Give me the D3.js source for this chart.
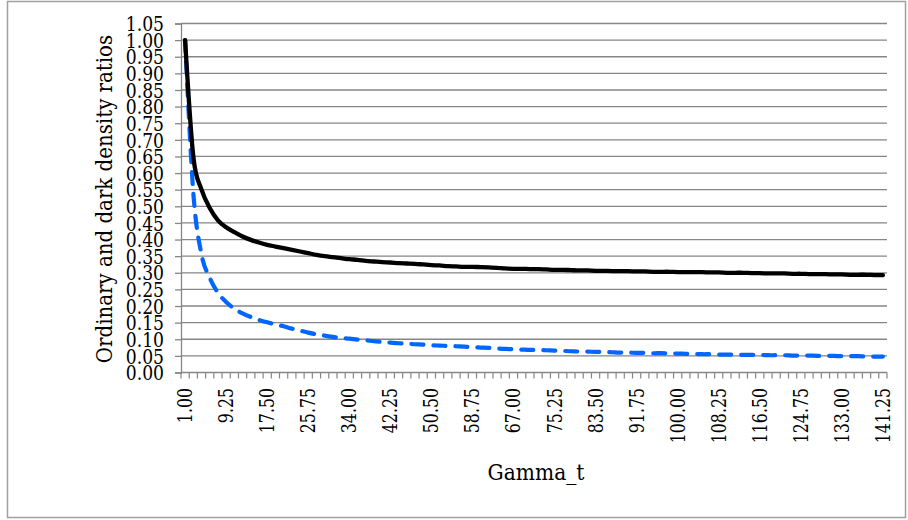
<!DOCTYPE html>
<html>
<head>
<meta charset="utf-8">
<script src="https://cdn.jsdelivr.net/npm/d3@7"></script>
<style>
  body { margin: 0; background: #fff; }
  svg { display: block; }
</style>
</head>
<body>
<svg id="chart" width="908" height="520"></svg>
<script>
// categories (Gamma_t)
var gammaT = [1.00, 2.65, 4.30, 5.95, 7.60, 9.25, 10.90, 12.55, 14.20, 15.85,
  17.50, 19.15, 20.80, 22.45, 24.10, 25.75, 27.40, 29.05, 30.70, 32.35,
  34.00, 35.65, 37.30, 38.95, 40.60, 42.25, 43.90, 45.55, 47.20, 48.85,
  50.50, 52.15, 53.80, 55.45, 57.10, 58.75, 60.40, 62.05, 63.70, 65.35,
  67.00, 68.65, 70.30, 71.95, 73.60, 75.25, 76.90, 78.55, 80.20, 81.85,
  83.50, 85.15, 86.80, 88.45, 90.10, 91.75, 93.40, 95.05, 96.70, 98.35,
  100.00, 101.65, 103.30, 104.95, 106.60, 108.25, 109.90, 111.55, 113.20, 114.85,
  116.50, 118.15, 119.80, 121.45, 123.10, 124.75, 126.40, 128.05, 129.70, 131.35,
  133.00, 134.65, 136.30, 137.95, 139.60, 141.25];

// solid black series
var ordinaryRatio = [1.000, 0.650, 0.550, 0.495, 0.458, 0.437, 0.422, 0.409, 0.399, 0.391,
  0.384, 0.379, 0.374, 0.369, 0.364, 0.359, 0.354, 0.350, 0.347, 0.344,
  0.341, 0.339, 0.336, 0.334, 0.332, 0.331, 0.329, 0.328, 0.327, 0.325,
  0.323, 0.322, 0.320, 0.319, 0.318, 0.318, 0.317, 0.316, 0.315, 0.313,
  0.312, 0.312, 0.311, 0.311, 0.310, 0.309, 0.309, 0.308, 0.307, 0.307,
  0.306, 0.306, 0.305, 0.305, 0.305, 0.304, 0.304, 0.303, 0.303, 0.303,
  0.302, 0.302, 0.302, 0.302, 0.301, 0.301, 0.300, 0.300, 0.300, 0.299,
  0.299, 0.298, 0.298, 0.298, 0.297, 0.297, 0.296, 0.296, 0.296, 0.295,
  0.295, 0.294, 0.294, 0.294, 0.293, 0.293];

// dashed blue series
var darkRatio = [1.000, 0.540, 0.355, 0.285, 0.240, 0.212, 0.192, 0.178, 0.167, 0.158,
  0.151, 0.145, 0.139, 0.132, 0.126, 0.120, 0.115, 0.111, 0.107, 0.104,
  0.102, 0.099, 0.097, 0.094, 0.092, 0.090, 0.088, 0.087, 0.085, 0.084,
  0.082, 0.081, 0.080, 0.079, 0.078, 0.076, 0.075, 0.074, 0.072, 0.071,
  0.070, 0.069, 0.068, 0.068, 0.067, 0.066, 0.065, 0.064, 0.063, 0.063,
  0.062, 0.062, 0.061, 0.060, 0.060, 0.059, 0.059, 0.058, 0.058, 0.057,
  0.057, 0.056, 0.056, 0.055, 0.055, 0.054, 0.054, 0.054, 0.053, 0.053,
  0.053, 0.052, 0.052, 0.052, 0.051, 0.051, 0.051, 0.050, 0.050, 0.050,
  0.049, 0.049, 0.049, 0.048, 0.048, 0.048];

var yTicks = [0.00, 0.05, 0.10, 0.15, 0.20, 0.25, 0.30, 0.35, 0.40, 0.45, 0.50,
  0.55, 0.60, 0.65, 0.70, 0.75, 0.80, 0.85, 0.90, 0.95, 1.00, 1.05];
var labelEvery = 5;

(function () {
  'use strict';

  var svg = d3.select('#chart');
  var grey = '#868686';
  // no Times here, so DejaVu Serif squeezed a bit to get close to its widths
  var serif = "'DejaVu Serif', serif";

  // outer chart border
  svg.append('rect')
    .attr('x', 7.5).attr('y', 1.5)
    .attr('width', 898).attr('height', 516)
    .attr('fill', '#fff')
    .attr('stroke', '#a0a0a0')
    .attr('stroke-width', 1.5);

  var plotLeft = 181, plotRight = 887, plotTop = 23.5, plotBottom = 372.5;

  var keys = gammaT.map(d => d.toFixed(2));
  var x = d3.scaleBand().domain(keys).range([plotLeft, plotRight]).paddingInner(0).paddingOuter(0);
  var y = d3.scaleLinear().domain([0, 1.05]).range([plotBottom, plotTop]);

  // horizontal gridlines
  svg.append('g')
    .selectAll('line')
    .data(yTicks.slice(1))
    .join('line')
    .attr('x1', plotLeft).attr('x2', plotRight)
    .attr('y1', d => y(d)).attr('y2', d => y(d))
    .attr('stroke', grey).attr('stroke-width', 1.3);

  // y axis
  var ySquash = 0.86;
  var yAxis = svg.append('g')
    .attr('transform', `translate(${plotLeft},0)`)
    .call(d3.axisLeft(y).tickValues(yTicks).tickFormat(d3.format('.2f')).tickSize(6));
  yAxis.attr('font-family', serif);
  yAxis.select('.domain').attr('stroke', grey).attr('stroke-width', 1.3);
  yAxis.selectAll('.tick line').attr('stroke', grey).attr('stroke-width', 1.3);
  yAxis.selectAll('.tick text')
    .attr('font-size', 20)
    .attr('x', -17 / ySquash)
    .attr('transform', `scale(${ySquash},1)`)
    .attr('dy', '0.36em')
    .attr('fill', '#000');

  // x axis line and tick marks between categories
  svg.append('line')
    .attr('x1', plotLeft).attr('x2', plotRight)
    .attr('y1', plotBottom).attr('y2', plotBottom)
    .attr('stroke', grey).attr('stroke-width', 1.3);

  var tickPos = keys.map(k => x(k)).concat([plotRight]);
  svg.append('g')
    .selectAll('line')
    .data(tickPos)
    .join('line')
    .attr('x1', d => d).attr('x2', d => d)
    .attr('y1', plotBottom).attr('y2', plotBottom + 6)
    .attr('stroke', grey).attr('stroke-width', 1.2);

  // x labels, rotated
  svg.append('g')
    .attr('font-family', serif)
    .selectAll('text')
    .data(keys.filter((k, i) => i % labelEvery === 0))
    .join('text')
    .attr('transform', d => `translate(${x(d) + x.bandwidth() / 2},388) rotate(-90) scale(0.81,1)`)
    .attr('text-anchor', 'end')
    .attr('dy', '0.36em')
    .attr('font-size', 19.5)
    .text(d => d);

  // series
  var line = d3.line()
    .x((d, i) => x(keys[i]) + x.bandwidth() / 2)
    .y(d => y(d))
    .curve(d3.curveCatmullRom.alpha(0));

  svg.append('path')
    .datum(darkRatio)
    .attr('d', line)
    .attr('fill', 'none')
    .attr('stroke', '#0066ff')
    .attr('stroke-width', 4.2)
    .attr('stroke-linecap', 'round')
    .attr('stroke-dasharray', '12,10');

  svg.append('path')
    .datum(ordinaryRatio)
    .attr('d', line)
    .attr('fill', 'none')
    .attr('stroke', '#000')
    .attr('stroke-width', 4.3)
    .attr('stroke-linejoin', 'round')
    .attr('stroke-linecap', 'round');

  // axis titles
  svg.append('text')
    .attr('transform', `translate(${(plotLeft + plotRight) / 2 + 2},480) scale(0.92,1)`)
    .attr('text-anchor', 'middle')
    .attr('font-family', serif)
    .attr('font-size', 22)
    .text('Gamma_t');

  svg.append('text')
    .attr('transform', `translate(112,${(plotTop + plotBottom) / 2 + 1}) rotate(-90) scale(0.9,1)`)
    .attr('text-anchor', 'middle')
    .attr('font-family', serif)
    .attr('font-size', 22)
    .text('Ordinary and dark density ratios');
})();
</script>
</body>
</html>
